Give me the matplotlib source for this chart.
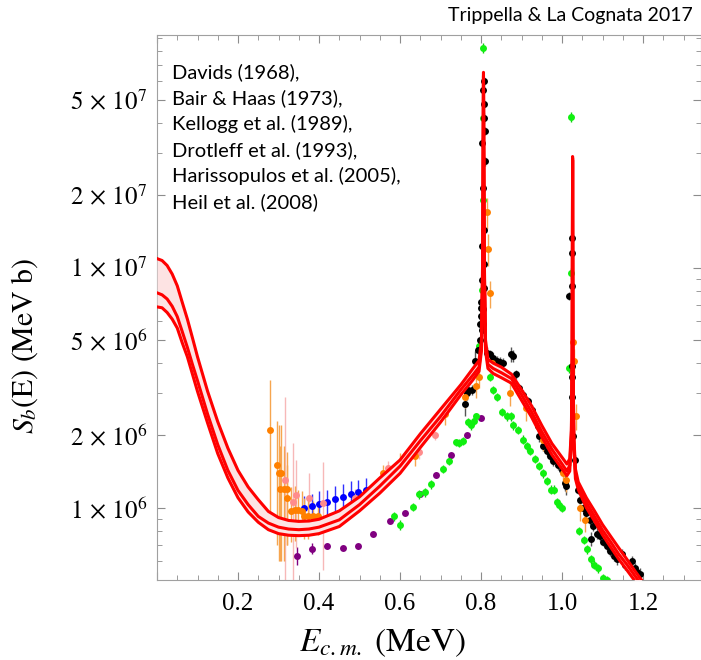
import matplotlib
matplotlib.use('Agg')
import matplotlib.pyplot as plt
from matplotlib.ticker import FixedLocator, NullFormatter

# R-matrix fit: central value and upper/lower limits of the band
E_curve = [0.0, 0.0125, 0.025, 0.0375, 0.05, 0.0625, 0.075, 0.0875, 0.1, 0.125, 0.15,
           0.175, 0.2, 0.225, 0.25, 0.275,
           0.3, 0.325, 0.35, 0.375, 0.4, 0.45, 0.5, 0.55, 0.6, 0.65, 0.7, 0.75, 0.78,
           0.795, 0.801, 0.804, 0.806, 0.808, 0.811, 0.817, 0.83, 0.85, 0.875, 0.9,
           0.925, 0.95, 0.975, 1.0, 1.012, 1.019, 1.023, 1.025, 1.026, 1.027, 1.029,
           1.033, 1.04, 1.06, 1.08, 1.1, 1.12, 1.14, 1.16, 1.18, 1.2]
S_upper = [1.09e7, 1.07e7, 1.02e7, 9.4e6, 8.4e6, 7.15e6, 6.1e6, 5.1e6, 4.25e6, 3.05e6, 2.28e6,
           1.77e6, 1.43e6, 1.22e6,
           1.08e6, 9.65e5, 9.1e5, 8.85e5, 8.77e5, 8.8e5, 8.95e5, 9.7e5, 1.11e6, 1.33e6,
           1.58e6, 2.03e6, 2.57e6, 3.25e6, 3.8e6, 4.1e6, 5.0e6, 1.1e7, 6.5e7, 1.1e7,
           5.0e6, 4.15e6, 4.0e6, 3.85e6, 3.6e6, 3.1e6, 2.65e6, 2.2e6, 1.85e6, 1.62e6,
           1.52e6, 1.6e6, 2.1e6, 4.5e6, 2.9e7, 4.5e6, 2.0e6, 1.45e6, 1.28e6, 1.1e6,
           9.7e5, 8.5e5, 7.6e5, 6.8e5, 6.1e5, 5.45e5, 4.9e5]
S_central = [7.85e6, 7.7e6, 7.4e6, 6.9e6, 6.25e6, 5.4e6, 4.65e6, 3.95e6, 3.38e6, 2.45e6, 1.83e6,
             1.43e6, 1.18e6, 1.03e6,
             9.2e5, 8.63e5, 8.3e5, 8.15e5, 8.1e5, 8.15e5, 8.3e5, 8.9e5, 1.03e6, 1.23e6,
             1.49e6, 1.9e6, 2.4e6, 3.1e6, 3.57e6, 3.85e6, 4.7e6, 1.0e7, 6.3e7, 1.0e7,
             4.7e6, 3.95e6, 3.8e6, 3.65e6, 3.45e6, 2.95e6, 2.5e6, 2.07e6, 1.75e6, 1.52e6,
             1.42e6, 1.5e6, 2.0e6, 4.2e6, 2.85e7, 4.2e6, 1.9e6, 1.38e6, 1.24e6, 1.05e6,
             9.2e5, 8.05e5, 7.2e5, 6.4e5, 5.8e5, 5.2e5, 4.7e5]
S_lower = [6.86e6, 6.8e6, 6.5e6, 6.1e6, 5.6e6, 4.85e6, 4.25e6, 3.6e6, 3.05e6, 2.25e6, 1.68e6,
           1.33e6, 1.1e6, 9.6e5,
           8.7e5, 8.1e5, 7.8e5, 7.68e5, 7.65e5, 7.68e5, 7.8e5, 8.35e5, 9.7e5, 1.15e6,
           1.39e6, 1.78e6, 2.27e6, 2.95e6, 3.41e6, 3.7e6, 4.5e6, 9.5e6, 6.0e7, 9.5e6,
           4.5e6, 3.8e6, 3.62e6, 3.48e6, 3.3e6, 2.8e6, 2.38e6, 1.97e6, 1.66e6, 1.45e6,
           1.36e6, 1.42e6, 1.9e6, 4.0e6, 2.8e7, 4.0e6, 1.8e6, 1.32e6, 1.19e6, 1.0e6,
           8.8e5, 7.7e5, 6.85e5, 6.1e5, 5.5e5, 4.95e5, 4.5e5]

# experimental data sets
E_orange = [0.279, 0.297, 0.300, 0.306, 0.304, 0.313, 0.320, 0.322, 0.332, 0.341, 0.349,
            0.357, 0.364, 0.374, 0.386, 0.397, 0.559, 0.600, 0.637, 0.711, 0.760, 0.788,
            0.796, 0.814, 0.816, 0.822, 0.826, 0.871, 0.911, 0.954, 1.003, 1.009, 1.028,
            1.030, 1.035, 1.044, 1.057]
S_orange = [2.1e6, 1.5e6, 1.4e6, 1.4e6, 1.2e6, 1.2e6, 1.2e6, 1.1e6, 9.7e5, 9.8e5, 9.8e5,
            9.7e5, 9.2e5, 9.2e5, 9.2e5, 9.2e5, 1.39e6, 1.54e6, 1.64e6, 2.45e6, 2.9e6, 3.2e6,
            3.5e6, 1.7e7, 1.2e7, 7.8e6, 4.0e6, 3.0e6, 2.6e6, 1.92e6, 1.4e6, 1.31e6, 4.9e6,
            4.1e6, 2.4e6, 1.0e6, 8.9e5]
err_orange = [1.3e6, 0.8e6, 0.8e6, 0.8e6, 0.6e6, 0.6e6, 0.5e6, 0.4e6, 0.25e6, 0.25e6, 0.2e6,
              0.2e6, 0.18e6, 0.18e6, 0.15e6, 0.15e6, 0.12e6, 0.15e6, 0.15e6, 0.25e6, 0.3e6,
              0.35e6, 0.35e6, 2.5e6, 1.8e6, 1.0e6, 0.4e6, 0.35e6, 0.3e6, 0.2e6, 0.15e6,
              0.15e6, 0.5e6, 0.5e6, 0.3e6, 0.12e6, 0.1e6]

E_pink = [0.316, 0.335, 0.343, 0.376, 0.410, 0.489, 0.570, 0.647, 0.686]
S_pink = [1.3e6, 1.06e6, 1.13e6, 1.1e6, 1.05e6, 1.1e6, 1.47e6, 1.7e6, 2.0e6]
err_pink = [1.6e6, 0.8e6, 0.45e6, 0.3e6, 0.5e6, 0.1e6, 0.1e6, 0.1e6, 0.08e6]

E_blue = [0.363, 0.382, 0.401, 0.420, 0.440, 0.458, 0.478, 0.497, 0.516]
S_blue = [1.0e6, 1.02e6, 1.04e6, 1.06e6, 1.09e6, 1.11e6, 1.14e6, 1.16e6, 1.18e6]
err_blue = [0.12e6, 0.12e6, 0.13e6, 0.13e6, 0.14e6, 0.14e6, 0.15e6, 0.15e6, 0.15e6]

E_purple = [0.345, 0.382, 0.420, 0.458, 0.497, 0.534, 0.574, 0.612, 0.649, 0.689, 0.726,
            0.765, 0.799]
S_purple = [6.3e5, 6.75e5, 6.9e5, 6.8e5, 6.9e5, 7.8e5, 8.8e5, 9.5e5, 1.14e6, 1.37e6, 1.65e6,
            2.0e6, 2.36e6]
err_purple = [0.55e5, 0.35e5, 0.2e5, 0.15e5, 0.15e5, 0.15e5, 0.2e5, 0.2e5, 0.3e5, 0.4e5,
              0.4e5, 0.5e5, 0.5e5]

E_green = [0.585, 0.600, 0.631, 0.648, 0.662, 0.677, 0.707, 0.722, 0.738, 0.746, 0.755,
           0.767, 0.775, 0.783, 0.788, 0.795, 0.805, 0.805, 0.804, 0.803, 0.822, 0.830,
           0.839, 0.851, 0.864, 0.873, 0.880, 0.892, 0.903, 0.913, 0.922, 0.933, 0.944,
           0.952, 0.962, 0.972, 0.980, 0.987, 0.993, 0.999, 1.018, 1.021, 1.021, 1.043,
           1.053, 1.062, 1.072, 1.080, 1.088, 1.102, 1.110]
S_green = [9.2e5, 8.5e5, 1.01e6, 1.14e6, 1.16e6, 1.25e6, 1.45e6, 1.57e6, 1.87e6, 1.86e6, 1.9e6,
           2.27e6, 2.2e6, 2.3e6, 2.4e6, 4.7e6, 8.2e7, 4.2e7, 1.92e7, 8.1e6, 3.5e6, 3.1e6,
           2.88e6, 2.5e6, 2.4e6, 2.4e6, 2.2e6, 2.1e6, 1.92e6, 1.8e6, 1.72e6, 1.6e6, 1.49e6,
           1.39e6, 1.29e6, 1.19e6, 1.19e6, 1.06e6, 1.03e6, 1.0e6, 3.8e6, 9.5e6, 4.25e7, 8.0e5,
           7.35e5, 6.7e5, 6.1e5, 5.8e5, 5.6e5, 5.1e5, 5.0e5]
err_green = [4e4, 4e4, 4e4, 5e4, 5e4, 5e4, 6e4, 6e4, 7e4, 7e4, 7e4,
             9e4, 9e4, 9e4, 9e4, 2e5, 4e6, 2e6, 1e6, 4e5, 1.4e5, 1.2e5,
             1.1e5, 1e5, 1e5, 1e5, 9e4, 8e4, 8e4, 7e4, 7e4, 6e4, 6e4,
             6e4, 5e4, 5e4, 5e4, 4e4, 4e4, 4e4, 1.5e5, 5e5, 2e6, 3e4,
             3e4, 3e4, 2.5e4, 2.5e4, 2.5e4, 2e4, 2e4]

E_black = [0.760, 0.766, 0.769, 0.777, 0.785, 0.792, 0.798, 0.798, 0.799, 0.800, 0.801,
           0.807, 0.805, 0.808, 0.807, 0.809, 0.803, 0.809, 0.805, 0.807, 0.803, 0.808,
           0.803, 0.808, 0.802, 0.806, 0.802, 0.804, 0.802,
           0.814, 0.822, 0.830, 0.839, 0.847, 0.855, 0.873, 0.878, 0.886, 0.894, 0.903,
           0.917, 0.925, 0.933, 0.941, 0.944, 0.954, 0.962, 0.970, 0.978, 0.991, 0.999,
           1.007, 1.010, 1.016, 1.024, 1.025, 1.025, 1.024, 1.024, 1.025, 1.026, 1.032,
           1.040, 1.044, 1.051, 1.059, 1.068, 1.071, 1.076, 1.086, 1.094, 1.102, 1.110,
           1.119, 1.127, 1.135, 1.147, 1.156, 1.172, 1.180, 1.186, 1.193]
S_black = [2.7e6, 3.0e6, 3.1e6, 3.1e6, 4.1e6, 4.55e6, 5.0e6, 5.8e6, 6.3e6, 6.8e6, 7.2e6,
           5.98e7, 5.5e7, 4.8e7, 4.2e7, 3.7e7, 3.3e7, 2.78e7, 2.15e7, 1.44e7, 1.23e7, 1.03e7,
           8.9e6, 8.2e6, 7.2e6, 6.7e6, 6.2e6, 5.8e6, 5.5e6,
           4.4e6, 4.35e6, 4.2e6, 4.1e6, 4.05e6, 4.0e6, 4.35e6, 4.3e6, 3.6e6, 3.15e6, 2.95e6,
           2.77e6, 2.56e6, 2.36e6, 2.18e6, 1.98e6, 1.8e6, 1.72e6, 1.64e6, 1.56e6, 1.51e6, 1.44e6,
           1.27e6, 1.23e6, 7.6e6, 1.33e7, 1.15e7, 8.4e6, 3.9e6, 3.5e6, 2.9e6, 1.98e6, 1.58e6,
           1.19e6, 1.08e6, 1.0e6, 9.5e5, 8.9e5, 7.4e5, 8.4e5, 7.8e5, 7.6e5, 7.2e5, 6.9e5,
           6.6e5, 6.3e5, 6.1e5, 6.4e5, 5.8e5, 6.0e5, 5.6e5, 5.4e5, 5.3e5]
err_black = [3e5, 2e5, 1.5e5, 1.5e5, 4e5, 2e5, 2e5, 2.5e5, 2.5e5, 3e5, 3e5,
             2.5e6, 2.5e6, 2e6, 2e6, 1.5e6, 1.5e6, 1.2e6, 1e6, 7e5, 6e5, 5e5,
             4e5, 4e5, 3e5, 3e5, 3e5, 3e5, 3e5,
             2.5e5, 2e5, 2e5, 2e5, 2e5, 2e5, 3e5, 2.5e5, 1.5e5, 1.3e5, 1.3e5,
             1.2e5, 1.1e5, 1e5, 1e5, 1e5, 8e4, 8e4, 8e4, 7e4, 7e4, 7e4,
             1e5, 1e5, 3e5, 6e5, 5e5, 4e5, 2e5, 1.5e5, 1.3e5, 1e5, 7e4,
             5e4, 5e4, 4e4, 4e4, 4e4, 5e4, 4e4, 4e4, 3e4, 3e4, 3e4,
             3e4, 3e4, 3e4, 3e4, 3e4, 3e4, 3e4, 3e4, 3e4]

references = ['Davids (1968),', 'Bair & Haas (1973),', 'Kellogg et al. (1989),',
              'Drotleff et al. (1993),', 'Harissopulos et al. (2005),', 'Heil et al. (2008)']

y_major = [1e6, 2e6, 5e6, 1e7, 2e7, 5e7]
y_labels = [r'$1\,\times\,10^{6}$', r'$2\,\times\,10^{6}$', r'$5\,\times\,10^{6}$',
            r'$1\,\times\,10^{7}$', r'$2\,\times\,10^{7}$', r'$5\,\times\,10^{7}$']
y_minor = [6e5, 7e5, 8e5, 9e5, 3e6, 4e6, 6e6, 7e6, 8e6, 9e6, 3e7, 4e7, 6e7, 7e7, 8e7, 9e7]
x_major = [0.0, 0.2, 0.4, 0.6, 0.8, 1.0, 1.2]
x_labels = ['', '0.2', '0.4', '0.6', '0.8', '1.0', '1.2']

plt.rcParams['mathtext.fontset'] = 'stix'
plt.rcParams['font.family'] = ['Liberation Serif', 'DejaVu Serif']

fig = plt.figure(figsize=(7.01, 6.6), dpi=100)
ax = fig.add_axes([157 / 701, 80 / 660, 544 / 701, 545 / 660])
ax.set_yscale('log')

# data sets with error bars
def data_set(E, S, err, color, ecolor):
    ax.errorbar(E, S, yerr=err, fmt='o', ms=5, mew=0, color=color, ecolor=ecolor,
                elinewidth=1, capsize=2.2, capthick=1, zorder=2)

data_set(E_purple, S_purple, err_purple, '#800080', '#800080')
data_set(E_blue, S_blue, err_blue, '#0000ff', '#3030ff')
data_set(E_pink, S_pink, err_pink, '#ff8c8c', '#f7b8b8')
data_set(E_green, S_green, err_green, '#10f010', '#10d010')
data_set(E_black, S_black, err_black, '#000000', '#555555')
data_set(E_orange, S_orange, err_orange, '#ff8000', '#f6a54f')

# fit band
ax.fill_between(E_curve, S_lower, S_upper, color='#fde3e3', lw=0, zorder=3)
for S in (S_upper, S_central, S_lower):
    ax.plot(E_curve, S, color='#ff0000', lw=2.2, zorder=4)

ax.set_xlim(0, 1.343)
ax.set_ylim(5.0e5, 9.3e7)

ax.xaxis.set_major_locator(FixedLocator(x_major))
ax.set_xticklabels(x_labels)
ax.xaxis.set_minor_locator(FixedLocator([i * 0.05 for i in range(27)]))
ax.yaxis.set_major_locator(FixedLocator(y_major))
ax.set_yticklabels(y_labels)
ax.yaxis.set_minor_locator(FixedLocator(y_minor))
ax.yaxis.set_minor_formatter(NullFormatter())

ax.tick_params(which='both', direction='in', top=True, right=True, color='#8c8c8c',
               labelsize=18, labelcolor='black')
ax.tick_params(axis='x', pad=9)
ax.tick_params(axis='y', pad=7)
ax.tick_params(which='major', length=6, width=0.8)
ax.tick_params(which='minor', length=3.5, width=0.6)
for sp in ax.spines.values():
    sp.set_color('#a0a0a0')
    sp.set_linewidth(0.8)

ax.set_ylabel(r'$S_b\mathrm{(E)\ (MeV\ b)}$', fontsize=21.5)
ax.yaxis.set_label_coords(-0.215, 0.43)
ax.set_xlabel(r'$E_{c.m.}\ \mathrm{(MeV)}$', fontsize=24)
ax.xaxis.set_label_coords(0.414, -0.085)

fig.text(693 / 701, 1 - 16 / 660, 'Trippella & La Cognata 2017', ha='right', va='center',
         fontsize=14, family='Lato')
for i, ref in enumerate(references):
    fig.text(172 / 701, 1 - (72 + i * 26) / 660, ref, ha='left', va='center',
             fontsize=14.5, family='Lato')

fig.savefig('out.png', dpi=100)
